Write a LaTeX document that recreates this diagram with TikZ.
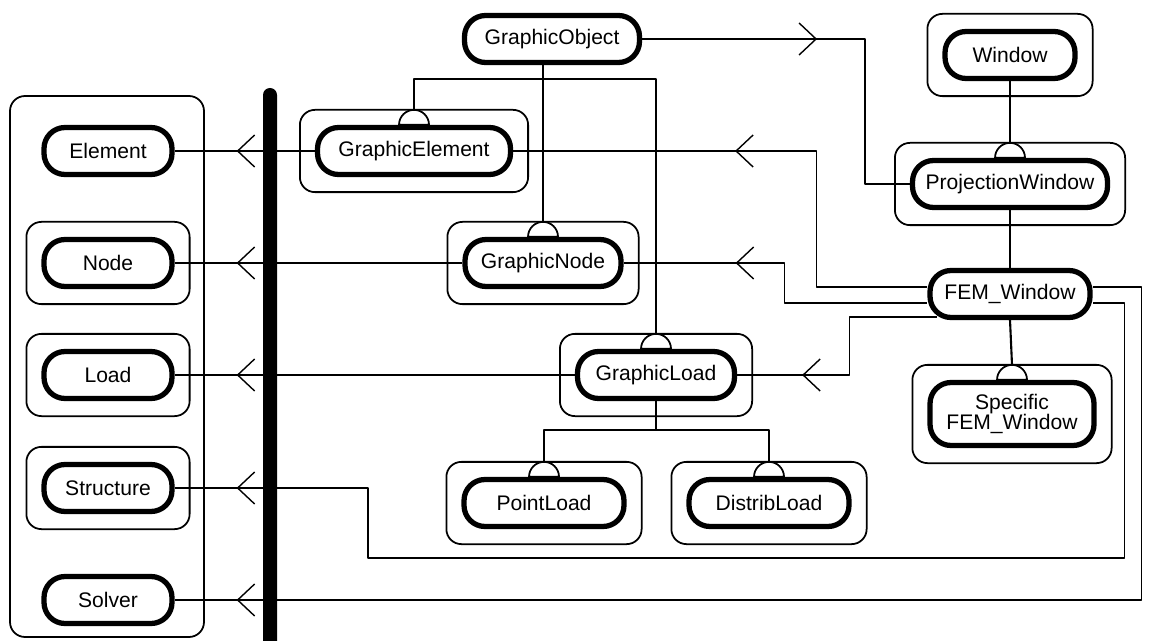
\documentclass[tikz,border=0pt]{standalone}
\usepackage{fontspec}
\setmainfont{Liberation Sans}
\usetikzlibrary{shapes.geometric,fit,arrows.meta,decorations.markings}

\begin{document}
\begin{tikzpicture}[x=.02cm,y=-.02cm,line join=round,
  cls/.style={draw,line width=3pt,rounded corners=.42cm,minimum height=.94cm,
    inner sep=0pt,font=\fontsize{12}{10}\selectfont},
  wrap/.style={draw,line width=1pt,rounded corners=.3cm,inner sep=.3cm},
  isa/.style={semicircle,draw,line width=1pt,minimum width=.6cm,inner sep=0pt,
    outer sep=0pt,anchor=chord center},
  tree/.style={line width=1.2pt},
  link/.style={line width=.8pt},
  barb/.tip={Straight Barb[length=.34cm,width=.64cm]},
  back/.style={link,postaction=decorate,decoration={markings,
    mark=at position #1 with {\arrowreversed{barb}}}},
  fwd/.style={link,postaction=decorate,decoration={markings,
    mark=at position #1 with {\arrow{barb}}}}]
  \useasboundingbox (0,0) rectangle (1151,641);
  % analysis package
  \draw[line width=1pt,rounded corners=.3cm] (10,96) rectangle (204,637);
  \foreach \n/\y/\t in {elem/151/Element,fenode/263/Node,load/375/Load,
    struct/488/Structure,solver/600/Solver}
    \node[cls,minimum width=2.56cm] (\n) at (108,\y) {\t};
  \foreach \n in {fenode,load,struct}
    \node[wrap,fit=(\n)] (\n-box) {};
  % graphic classes
  \node[cls,minimum width=3.5cm] (gobj) at (552,39) {GraphicObject};
  \node[cls,minimum width=3.86cm] (gelem) at (414,151) {GraphicElement};
  \node[cls,minimum width=3.12cm] (gnode) at (543,263) {GraphicNode};
  \node[cls,minimum width=3.14cm] (gload) at (656,375) {GraphicLoad};
  \node[cls,minimum width=3.2cm] (pload) at (544,503) {PointLoad};
  \node[cls,minimum width=3.2cm] (dload) at (769,503) {DistribLoad};
  % windows
  \node[cls,minimum width=2.6cm] (win) at (1010,55) {Window};
  \node[cls,minimum width=3.9cm] (pwin) at (1010,184) {ProjectionWindow};
  \node[cls,minimum width=3.2cm] (fem) at (1010,294) {FEM\_Window};
  \node[cls,minimum width=3.28cm,minimum height=1.26cm,align=center]
    (sfem) at (1012,414) {Specific\\[-1pt]FEM\_Window};
  \foreach \n in {gelem,gnode,gload,pload,dload,win,pwin,sfem}
    \node[wrap,fit=(\n)] (\n-box) {};
  \foreach \n in {gelem,gnode,gload,pload,dload,pwin,sfem}
    \node[isa] (\n-h) at (\n.north) {};
  % inheritance
  \draw[tree] (gnode-h.apex) -- (gnode-h.apex |- gobj.south);
  \draw[tree] (gelem-h.apex) |- ([yshift=-.28cm]gobj.south) -| (gload-h.apex);
  \draw[tree] (gload.south) -- ([yshift=-.58cm]gload.south);
  \draw[tree] (pload-h.apex) |- ([yshift=-.58cm]gload.south) -| (dload-h.apex);
  \draw[tree] (win.south) -- (pwin-h.apex);
  \draw[tree] (pwin.south) -- (fem.north);
  \draw[tree] (fem.south) -- (sfem-h.apex);
  % associations
  \foreach \a/\b in {elem/gelem,fenode/gnode,load/gload}
    \draw[back=1.24cm] (\a.east) -- (\b.west);
  \draw[back=1.24cm] (struct.east) -| (368,558)
    -| ([shift={(.64cm,-.18cm)}]fem.east) -- ([yshift=-.18cm]fem.east);
  \draw[back=1.24cm] (solver.east) -| ([shift={(.98cm,.14cm)}]fem.east)
    -- ([yshift=.14cm]fem.east);
  \draw[fwd=3.5cm] (gobj.east) -| ([xshift=-.9cm]pwin.west) -- (pwin.west);
  \draw[back=4.44cm] (gelem.east) -| ([shift={(-2.22cm,.14cm)}]fem.west)
    -- ([yshift=.14cm]fem.west);
  \draw[back=2.24cm] (gnode.east) -| ([shift={(-2.86cm,-.18cm)}]fem.west)
    -- ([yshift=-.18cm]fem.west);
  \draw[back=1.3cm] (gload.east) -| ([shift={(-1.56cm,-.46cm)}]fem.west)
    -- ([shift={(.2cm,-.46cm)}]fem.west);
  % package border
  \fill (263,641) -- (263,95) arc (180:0:.14cm) -- (277,641) -- cycle;
\end{tikzpicture}
\end{document}
